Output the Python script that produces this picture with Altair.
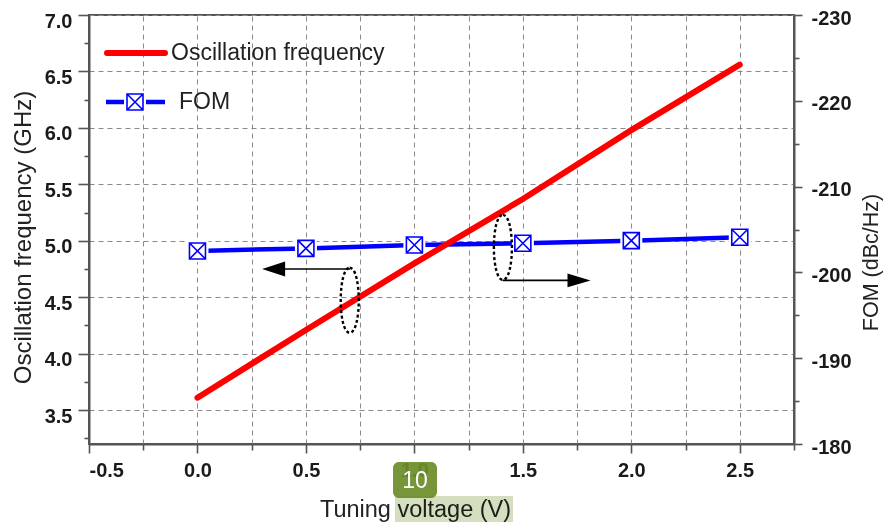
import altair as alt
import pandas as pd

# ---------------- data ----------------
voltage = [0.0, 0.5, 1.0, 1.5, 2.0, 2.5]
freq_ghz = [3.61, 4.21, 4.80, 5.37, 5.98, 6.56]
fom_dbc = [-202.5, -202.8, -203.2, -203.4, -203.7, -204.1]

x_ticks = [-0.5, -0.25, 0.0, 0.25, 0.5, 0.75, 1.0, 1.25, 1.5, 1.75, 2.0, 2.25, 2.5, 2.75]
yl_ticks = [3.25, 3.5, 3.75, 4.0, 4.25, 4.5, 4.75, 5.0, 5.25, 5.5, 5.75, 6.0, 6.25, 6.5, 6.75, 7.0]
yr_ticks = [-230, -225, -220, -215, -210, -205, -200, -195, -190, -185, -180]

# annotation (left-axis data coordinates)
arrow_x_start = [0.704, 1.406]
arrow_x_end = [0.40, 1.73]
arrow_y = [4.75, 4.649]
head_x = [0.351, 1.759]
head_dir = ["left", "right"]
ellipse_x = [0.702, 1.408]
ellipse_y = [4.473, 4.942]

legend_labels = ["Oscillation frequency", "FOM"]
badge_text = "10"

FONT = "Liberation Sans"
RED = "#ff0000"
BLUE = "#0000ff"

main_df = pd.DataFrame({"v": voltage, "f": freq_ghz, "fom": fom_dbc})
arrow_df = pd.DataFrame({"xa": arrow_x_start, "xb": arrow_x_end, "ya": arrow_y,
                         "hx": head_x, "dir": head_dir})
ell_df = pd.DataFrame({"ex": ellipse_x, "ey": ellipse_y})
one = pd.DataFrame({"k": [0]})

# ---------------- scales / axes ----------------
xscale = alt.Scale(domain=[-0.5, 2.75], nice=False, zero=False)
xaxis = alt.Axis(
    values=x_ticks,
    labelExpr="datum.value % 0.5 == 0 ? (datum.value < 0 ? '-' : '') + format(abs(datum.value), '.1f') : ''",
    tickSize={"condition": {"test": "datum.value % 0.5 == 0", "value": 9}, "value": 6},
    labelPadding=7, labelFontSize=20, labelFontWeight="bold",
    title="Tuning voltage (V)", titleFontSize=23.5, titleFontWeight="normal",
    titleX=326, titlePadding=17, grid=True,
)

ylscale = alt.Scale(domain=[3.2, 7.0], nice=False, zero=False)
ylaxis = alt.Axis(
    orient="left", values=yl_ticks,
    labelExpr="datum.value % 0.5 == 0 ? format(datum.value, '.1f') : ''",
    tickSize={"condition": {"test": "datum.value % 0.5 == 0", "value": 11}, "value": 5},
    gridOpacity={"condition": {"test": "datum.value % 0.5 == 0", "value": 1}, "value": 0},
    labelPadding=6, labelFontSize=20, labelFontWeight="bold", labelOffset=6,
    title="Oscillation frequency (GHz)", titleFontSize=24, titleFontWeight="normal",
    titleY=222, titlePadding=9, grid=True,
)

yrscale = alt.Scale(domain=[-230, -180], nice=False, zero=False, reverse=True)
yraxis = alt.Axis(
    orient="right", values=yr_ticks,
    labelExpr="datum.value % 10 == 0 ? '-' + format(abs(datum.value), 'd') : ''",
    tickSize={"condition": {"test": "datum.value % 10 == 0", "value": 8}, "value": 5},
    labelPadding=9, labelFontSize=20, labelFontWeight="bold", labelOffset=3,
    title="FOM (dBc/Hz)", titleFontSize=21.5, titleFontWeight="normal",
    titleAngle=270, titleX=77, titleY=247, titleAlign="center", titleBaseline="middle",
    grid=False,
)


def X(field):
    return alt.X(f"{field}:Q", scale=xscale, axis=xaxis)


def YL(field):
    return alt.Y(f"{field}:Q", scale=ylscale, axis=ylaxis)


def YR(field):
    return alt.Y(f"{field}:Q", scale=yrscale, axis=yraxis)


box_x = "M-1,-1L1,-1L1,1L-1,1Z M-1,-1L1,1 M1,-1L-1,1"
tri_left = "M-1,0L1,-0.65L1,0.65Z"
tri_right = "M1,0L-1,-0.6L-1,0.6Z"
ellipse_path = "M0,-1C0.37,-1 0.37,1 0,1C-0.37,1 -0.37,-1 0,-1Z"

# ---------------- right (FOM) group ----------------
fom_base = alt.Chart(main_df)
fom_line = fom_base.mark_line(color=BLUE, strokeWidth=4.5).encode(x=X("v"), y=YR("fom"))
fom_gap = fom_base.mark_square(size=484, color="white", opacity=1, filled=True).encode(
    x=X("v"), y=YR("fom"))
fom_mark = fom_base.mark_point(shape=box_x, size=256, filled=True, fill="white",
                               stroke=BLUE, strokeWidth=1.6, opacity=1).encode(
    x=X("v"), y=YR("fom"))
right_group = alt.layer(fom_line, fom_gap, fom_mark)

# ---------------- left (frequency) group ----------------
freq_line = alt.Chart(main_df).mark_line(color=RED, strokeWidth=6, strokeCap="round").encode(
    x=X("v"), y=YL("f"))

arrow_lines = alt.Chart(arrow_df).mark_rule(color="black", strokeWidth=1.6).encode(
    x=X("xa"), x2="xb", y=YL("ya"))
arrow_heads = alt.Chart(arrow_df).mark_point(size=529, filled=True, color="black", opacity=1).encode(
    x=X("hx"), y=YL("ya"),
    shape=alt.Shape("dir:N", scale=alt.Scale(domain=["left", "right"], range=[tri_left, tri_right]),
                    legend=None))
ellipses = alt.Chart(ell_df).mark_point(shape=ellipse_path, size=4225, filled=False,
                                        stroke="black", strokeWidth=2.4, strokeDash=[3, 2.5],
                                        opacity=1).encode(x=X("ex"), y=YL("ey"))

# legend (pixel positions inside the plot area)
leg_red = alt.Chart(one).mark_rule(color=RED, strokeWidth=6, strokeCap="round").encode(
    x=alt.value(18), x2=alt.value(76), y=alt.value(38))
leg_blue = alt.Chart(one).mark_rule(color=BLUE, strokeWidth=4.5).encode(
    x=alt.value(17), x2=alt.value(76), y=alt.value(87))
leg_gap = alt.Chart(one).mark_square(size=484, color="white", opacity=1, filled=True).encode(
    x=alt.value(46), y=alt.value(87))
leg_mark = alt.Chart(one).mark_point(shape=box_x, size=256, filled=True, fill="white",
                                     stroke=BLUE, strokeWidth=1.6, opacity=1).encode(
    x=alt.value(46), y=alt.value(87))
leg_t1 = alt.Chart(one).mark_text(text=legend_labels[0], align="left", baseline="middle",
                                  font=FONT, fontSize=23, color="#222").encode(
    x=alt.value(82), y=alt.value(38))
leg_t2 = alt.Chart(one).mark_text(text=legend_labels[1], align="left", baseline="middle",
                                  font=FONT, fontSize=23, color="#222").encode(
    x=alt.value(90), y=alt.value(87))

# overlay badge & highlight below the x axis
highlight = alt.Chart(one).mark_rect(color="#d3dfbf", opacity=1, blend="multiply").encode(
    x=alt.value(306), x2=alt.value(424), y=alt.value(481), y2=alt.value(508))
badge = alt.Chart(one).mark_rect(color="#6b8c28", opacity=0.92, cornerRadius=6).encode(
    x=alt.value(304), x2=alt.value(348), y=alt.value(447), y2=alt.value(483))
badge_t = alt.Chart(one).mark_text(text=badge_text, align="center", baseline="middle",
                                   font=FONT, fontSize=23, color="white").encode(
    x=alt.value(326), y=alt.value(466))

left_group = alt.layer(freq_line, arrow_lines, arrow_heads, ellipses,
                       leg_red, leg_blue, leg_gap, leg_mark, leg_t1, leg_t2,
                       highlight, badge, badge_t)

chart = alt.layer(right_group, left_group).resolve_scale(y="independent").properties(
    width=705, height=429,
    autosize=alt.AutoSizeParams(type="none"),
    padding={"left": 81, "top": 7, "right": 89, "bottom": 78},
    background="white",
).configure_axis(
    labelFont=FONT, titleFont=FONT, labelColor="#1a1a1a", titleColor="#222",
    domainColor="#555", domainWidth=2, tickColor="#555", tickWidth=1.6,
    gridColor="#8a8a8a", gridDash=[5, 4], gridWidth=1,
).configure_view(stroke="#555", strokeWidth=2)

chart.save("out.html", embed_options={"renderer": "svg", "actions": False})
